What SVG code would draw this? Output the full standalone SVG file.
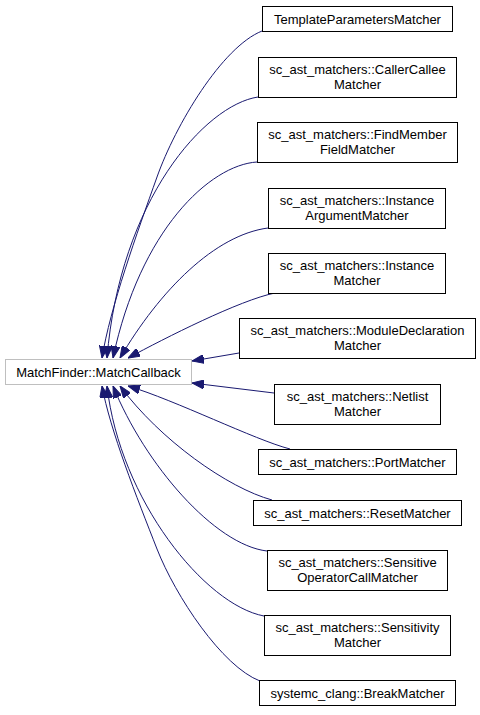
<svg xmlns="http://www.w3.org/2000/svg" width="480" height="715" viewBox="0 0 480 715">
<defs>
<style>
.n rect{fill:#fff;stroke:#000;stroke-width:1}
.m rect{fill:#fff;stroke:#bfbfbf;stroke-width:1}
text{font-family:"Liberation Sans",Arial,Helvetica,sans-serif;font-size:13px;fill:#000;text-anchor:middle}
.e path{fill:none;stroke:#191970;stroke-width:1;marker-end:url(#ah)}
</style>
<marker id="ah" markerUnits="userSpaceOnUse" markerWidth="12" markerHeight="9" viewBox="0 0 12 9" refX="12" refY="4.5" orient="auto">
<path d="M0,0 L12,4.5 L0,9 z" fill="#191970" stroke="#191970"/>
</marker>
</defs>
<rect width="480" height="715" fill="#fff"/>
<g id="edges" class="e">
<path d="M262,31 C222,47 175.5,125 157,177 C137,233 110,308 102,358"/>
<path d="M258,97 C205,105 120,200 107,358"/>
<path d="M257,162 C210,165 140,230 113,358"/>
<path d="M268,228 C215,235 160,290 120,358"/>
<path d="M275,293 C240,300 165,338 128,358"/>
<path d="M239,353 L192,361"/>
<path d="M274,393 L192,383"/>
<path d="M290,449 C255,440 175,400 128,386"/>
<path d="M272,500 C228,488 160,440 120,386"/>
<path d="M267,551 C215,545 145,465 113,386"/>
<path d="M264,616 C205,605 120,500 107,386"/>
<path d="M260,681 C222,666.5 175.5,596 157,549 C137,498 110,430 102,386"/>
</g>
<g id="main" class="m"><rect x="5.5" y="359.5" width="186" height="25"/><text x="98.5" y="376.5">MatchFinder::MatchCallback</text></g>
<g id="n1" class="n"><rect x="262.5" y="6.5" width="190" height="25"/><text x="357.5" y="23.5">TemplateParametersMatcher</text></g>
<g id="n2" class="n"><rect x="258.5" y="57.5" width="198" height="40"/><text x="357.5" y="74">sc_ast_matchers::CallerCallee</text><text x="357.5" y="89">Matcher</text></g>
<g id="n3" class="n"><rect x="257.5" y="122.5" width="200" height="40"/><text x="357.5" y="139">sc_ast_matchers::FindMember</text><text x="357.5" y="154">FieldMatcher</text></g>
<g id="n4" class="n"><rect x="268.5" y="188.5" width="177" height="40"/><text x="357" y="205">sc_ast_matchers::Instance</text><text x="357" y="220">ArgumentMatcher</text></g>
<g id="n5" class="n"><rect x="268.5" y="253.5" width="177" height="40"/><text x="357" y="270">sc_ast_matchers::Instance</text><text x="357" y="285">Matcher</text></g>
<g id="n6" class="n"><rect x="239.5" y="318.5" width="236" height="40"/><text x="357.5" y="335">sc_ast_matchers::ModuleDeclaration</text><text x="357.5" y="350">Matcher</text></g>
<g id="n7" class="n"><rect x="274.5" y="384.5" width="166" height="40"/><text x="357.5" y="401">sc_ast_matchers::Netlist</text><text x="357.5" y="416">Matcher</text></g>
<g id="n8" class="n"><rect x="258.5" y="449.5" width="198" height="25"/><text x="357.5" y="466.5">sc_ast_matchers::PortMatcher</text></g>
<g id="n9" class="n"><rect x="253.5" y="500.5" width="208" height="25"/><text x="357.5" y="517.5">sc_ast_matchers::ResetMatcher</text></g>
<g id="n10" class="n"><rect x="267.5" y="550.5" width="180" height="40"/><text x="357.5" y="567">sc_ast_matchers::Sensitive</text><text x="357.5" y="582">OperatorCallMatcher</text></g>
<g id="n11" class="n"><rect x="264.5" y="615.5" width="186" height="40"/><text x="357.5" y="632">sc_ast_matchers::Sensitivity</text><text x="357.5" y="647">Matcher</text></g>
<g id="n12" class="n"><rect x="259.5" y="680.5" width="196" height="25"/><text x="357.5" y="697.5">systemc_clang::BreakMatcher</text></g>
</svg>
